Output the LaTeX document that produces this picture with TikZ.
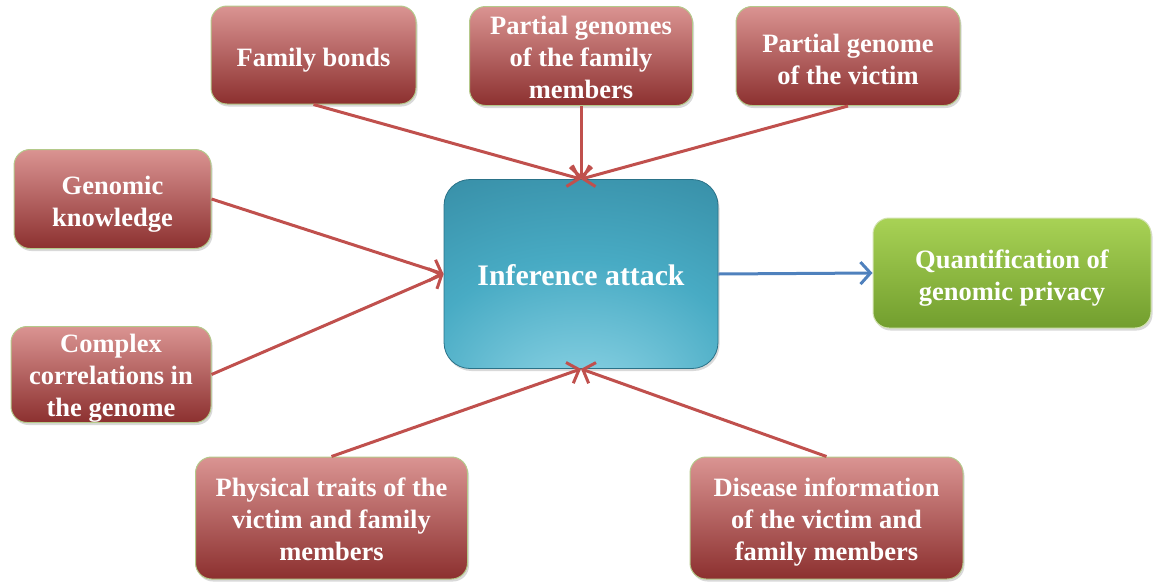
\documentclass[tikz,border=0pt]{standalone}
\usepackage{fontspec}
\setmainfont{Liberation Serif}
\usetikzlibrary{arrows.meta,shadows}
\definecolor{redtop}{HTML}{DA9492}
\definecolor{redmid}{HTML}{C0504D}
\definecolor{redbot}{HTML}{8C302F}
\definecolor{redline}{HTML}{C0504D}
\definecolor{olivebd}{HTML}{B4C98A}
\definecolor{greentop}{HTML}{A8D255}
\definecolor{greenmid}{HTML}{92C045}
\definecolor{greenbot}{HTML}{729E2E}
\definecolor{greenbd}{HTML}{D2E2B0}
\definecolor{tealout}{HTML}{2B7890}
\definecolor{tealmid}{HTML}{48ABC4}
\definecolor{tealin}{HTML}{98DAEA}
\definecolor{tealbd}{HTML}{2A7288}
\definecolor{blueline}{HTML}{4F81BD}
\newcommand\toppad[1]{\rule{0pt}{#1pt}}
\pgfdeclareradialshading{tealglow}{\pgfpoint{0bp}{-38bp}}{color(0bp)=(tealin); color(30bp)=(tealmid); color(68bp)=(tealout); color(100bp)=(tealout)}
\tikzset{
  boxtext/.style={text=white, align=center, inner sep=0pt,
    font=\fontsize{26.5}{32}\selectfont\bfseries},
  redbox/.style={boxtext, rectangle, rounded corners=16pt, draw=olivebd, line width=1pt,
    top color=redtop, middle color=redmid, bottom color=redbot, shading=axis,
    drop shadow={opacity=0.3, shadow xshift=1.5pt, shadow yshift=-2.5pt}},
  greenbox/.style={boxtext, rectangle, rounded corners=16pt, draw=greenbd, line width=1pt,
    top color=greentop, middle color=greenmid, bottom color=greenbot, shading=axis,
    drop shadow={opacity=0.3, shadow xshift=1.5pt, shadow yshift=-2.5pt}},
  tealbox/.style={boxtext, rectangle, rounded corners=26pt, draw=tealbd, line width=0.8pt,
    shading=tealglow, font=\fontsize{29.8}{34}\selectfont\bfseries,
    drop shadow={opacity=0.3, shadow xshift=1.5pt, shadow yshift=-2.5pt}},
  redarrow/.style={draw=redline, line width=3pt,
    -{Straight Barb[length=10pt,width=22pt,line width=3pt]}},
  bluearrow/.style={draw=blueline, line width=3pt,
    -{Straight Barb[length=10pt,width=22pt,line width=3pt]}}
}
\begin{document}
\begin{tikzpicture}[x=1pt,y=-1pt]
\useasboundingbox (0,0) rectangle (1153,584);
% central node
\node[tealbox, minimum width=274pt, minimum height=189pt] (inf) at (581,274) {\toppad{23}Inference attack};
% result
\node[greenbox, minimum width=278pt, minimum height=110pt] (quant) at (1012,273) {\toppad{28}Quantification of\\genomic privacy};
% sources
\node[redbox, minimum width=205pt, minimum height=98pt] (fam) at (313.5,55) {\toppad{28}Family bonds};
\node[redbox, minimum width=223pt, minimum height=99pt] (pgf) at (581,56) {\toppad{22}Partial genomes\\of the family\\members};
\node[redbox, minimum width=224pt, minimum height=99pt] (pgv) at (848,56) {\toppad{26}Partial genome\\of the victim};
\node[redbox, minimum width=197pt, minimum height=99pt] (gk) at (112.5,199) {\toppad{29}Genomic\\knowledge};
\node[redbox, minimum width=200pt, minimum height=96pt] (cc) at (111,374.5) {\toppad{26}Complex\\correlations in\\the genome};
\node[redbox, minimum width=272pt, minimum height=122pt] (pt) at (331.5,518) {\toppad{22}Physical traits of the\\victim and family\\members};
\node[redbox, minimum width=273pt, minimum height=122pt] (di) at (826.5,518) {\toppad{27}Disease information\\of the victim and\\family members};
% connectors
\draw[redarrow] (fam.south) -- (inf.north);
\draw[redarrow] (pgf.south) -- (inf.north);
\draw[redarrow] (pgv.south) -- (inf.north);
\draw[redarrow] (gk.east) -- (inf.west);
\draw[redarrow] (cc.east) -- (inf.west);
\draw[redarrow] (pt.north) -- (inf.south);
\draw[redarrow] (di.north) -- (inf.south);
\draw[bluearrow] (inf.east) -- (quant.west);
\end{tikzpicture}
\end{document}
